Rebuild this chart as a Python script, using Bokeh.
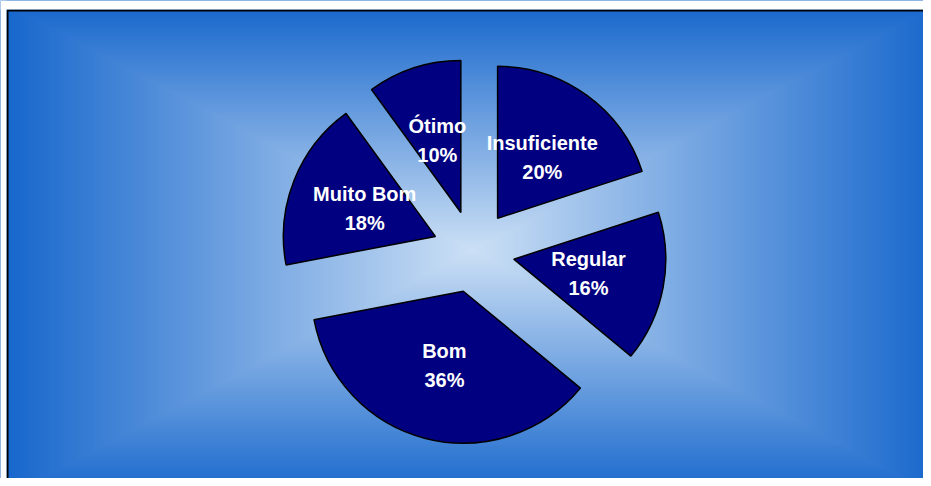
import numpy as np
from bokeh.plotting import figure
from bokeh.models import Range1d, ColumnDataSource
from bokeh.core.properties import value
from bokeh.embed import file_html
from bokeh.resources import INLINE

# ---- data ----
categories = ["Insuficiente", "Regular", "Bom", "Muito Bom", "Ótimo"]
percents = [20, 16, 36, 18, 10]
pct_labels = ["20%", "16%", "36%", "18%", "10%"]

# ---- layout (pixels) ----
W, H = 923, 478
OX, OY = 0, 0  # where the figure's top-left lands in the picture
FW, FH = 931, 486  # full picture size used for the gradient geometry


def sx(x):  # picture x -> data x
    return x - OX


def sy(y):  # picture y -> data y
    return H - (y - OY)


p = figure(width=W, height=H, output_backend="svg", toolbar_location=None,
           x_range=Range1d(0, W), y_range=Range1d(0, H), min_border=0)
p.axis.visible = False
p.grid.visible = False
p.outline_line_color = None
p.background_fill_color = "#1666cc"
p.border_fill_color = "white"

# ---- background: rectangle gradient from centre ----
gcx, gcy = sx(472), sy(250)
xs = np.arange(W) + 0.5
ys = np.arange(H) + 0.5
X, Y = np.meshgrid(xs, ys)
t = np.maximum(np.abs(X - gcx) / (FW / 2 + 2), np.abs(Y - gcy) / (FH / 2 + 4))
t = np.clip(t, 0, 1)
c0 = np.array([204, 224, 245], dtype=float)
c1 = np.array([22, 102, 204], dtype=float)
rgb = c0[None, None, :] + (c1 - c0)[None, None, :] * t[..., None]
img = np.empty((H, W, 4), dtype=np.uint8)
img[..., :3] = np.round(rgb).astype(np.uint8)
img[..., 3] = 255
p.image_rgba(image=[img.view(np.uint32).reshape(H, W)], x=0, y=0, dw=W, dh=H)

# frame border (left and top visible)
p.line(x=[sx(7), sx(7), W], y=[0, sy(10), sy(10)], line_color="black", line_width=2)
p.varea(x=[0, sx(6)], y1=[0, 0], y2=[H, H], fill_color="white")
p.varea(x=[0, W], y1=[sy(9), sy(9)], y2=[H, H], fill_color="white")

# ---- pie ----
cx, cy = sx(473), sy(251)
R = 152
explode = 41
total = float(sum(percents))
frac = np.array(percents) / total
cum = np.concatenate([[0], np.cumsum(frac)])
start = np.pi / 2 - cum[1:] * 2 * np.pi
end = np.pi / 2 - cum[:-1] * 2 * np.pi
mid = (start + end) / 2
wx = cx + explode * np.cos(mid)
wy = cy + explode * np.sin(mid)

src = ColumnDataSource(dict(x=wx, y=wy, start=start, end=end))
p.wedge(x="x", y="y", radius=R, start_angle="start", end_angle="end",
        source=src, fill_color="#000080", line_color="black", line_width=1.5)

lx = wx + 0.5 * R * np.cos(mid)
ly = wy + 0.5 * R * np.sin(mid)
lsrc = ColumnDataSource(dict(x=lx, y=ly, name=categories, pct=pct_labels))
common = dict(text_color="white", text_font=value("Liberation Sans"),
              text_font_style="bold", text_font_size="20px",
              text_align="center", text_baseline="middle", source=lsrc)
p.text(x="x", y="y", text="name", y_offset=-14, **common)
p.text(x="x", y="y", text="pct", y_offset=15, **common)

open("out.html", "w").write(file_html(p, INLINE))
